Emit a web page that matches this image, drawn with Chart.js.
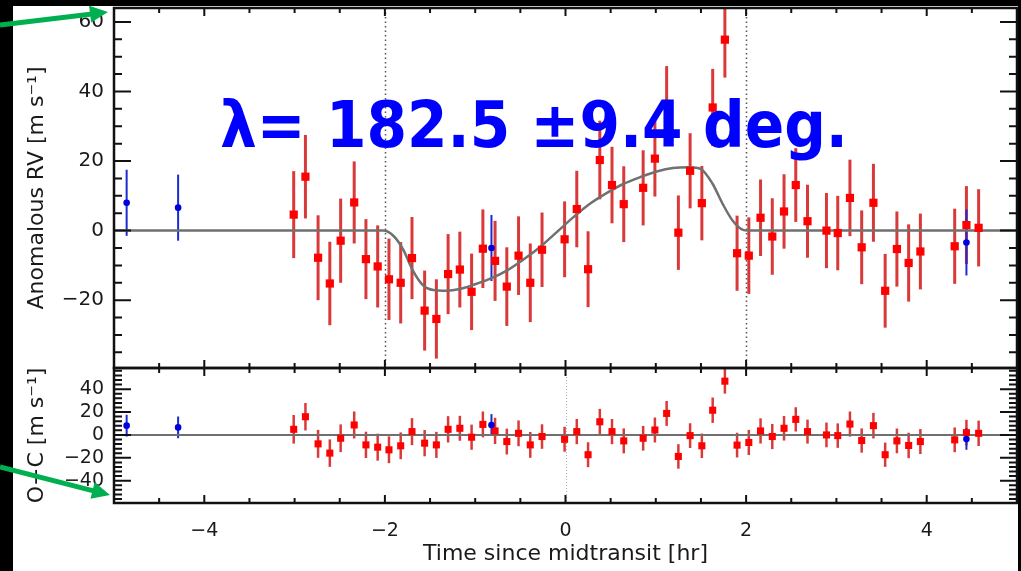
<!DOCTYPE html>
<html>
<head>
<meta charset="utf-8">
<title>Anomalous RV</title>
<script src="https://cdn.jsdelivr.net/npm/chart.js@4.4.0/dist/chart.umd.min.js"></script>
<style>
  html, body { margin: 0; padding: 0; background: #000; }
  #page { position: relative; width: 1021px; height: 571px; overflow: hidden; background: #000; }
  #sheet { position: absolute; left: 13px; top: 6px; width: 1005px; height: 565px; background: #fff; }
  canvas { position: absolute; left: 0; top: 0; }
</style>
</head>
<body>
<div id="page">
  <div id="sheet"></div>
  <canvas id="ocChart" width="1021" height="571"></canvas>
  <canvas id="rvChart" width="1021" height="571"></canvas>
</div>
<script>
// data
// red points (in-transit night)
var redTime = [-3.01, -2.88, -2.74, -2.61, -2.49, -2.34, -2.21, -2.08, -1.955, -1.825,
  -1.70, -1.56, -1.43, -1.30, -1.17, -1.04, -0.915, -0.78, -0.65, -0.52,
  -0.39, -0.26, -0.01, 0.125, 0.25, 0.38, 0.515, 0.645, 0.86, 0.99,
  1.12, 1.25, 1.38, 1.51, 1.63, 1.765, 1.90, 2.03, 2.16, 2.29,
  2.42, 2.55, 2.68, 2.89, 3.015, 3.15, 3.28, 3.41, 3.54, 3.67,
  3.80, 3.93, 4.31, 4.44, 4.575];
var redRV = [4.6, 15.5, -7.8, -15.2, -2.9, 8.1, -8.2, -10.3, -14.0, -15.0,
  -7.9, -23.0, -25.4, -12.5, -11.2, -17.6, -5.2, -8.7, -16.1, -7.2,
  -15.0, -5.5, -2.5, 6.2, -11.1, 20.3, 13.1, 7.6, 12.3, 20.7,
  36.4, -0.6, 17.2, 7.9, 35.4, 54.9, -6.5, -7.2, 3.7, -1.7,
  5.5, 13.1, 2.7, 0.0, -0.7, 9.4, -4.8, 8.0, -17.3, -5.3,
  -9.3, -6.0, -4.5, 1.6, 0.8];
var redErr = [12.5, 12.0, 12.2, 12.0, 12.1, 11.8, 11.5, 11.8, 11.7, 11.7,
  11.8, 11.5, 11.4, 11.5, 10.9, 11.0, 11.3, 11.5, 11.3, 11.3,
  11.3, 10.7, 10.9, 11.0, 10.9, 11.3, 11.0, 10.9, 10.8, 10.9,
  10.9, 10.7, 10.8, 10.7, 11.1, 10.9, 10.8, 11.0, 11.0, 11.0,
  10.7, 10.6, 10.5, 10.8, 10.7, 11.0, 10.6, 11.2, 10.6, 10.8,
  11.1, 10.9, 10.8, 11.2, 11.1];
var redOC = [4.9, 15.9, -7.8, -15.9, -2.9, 8.7, -8.7, -10.7, -13.0, -9.5,
  2.9, -7.2, -8.7, 4.9, 5.8, -2.0, 9.2, 3.5, -5.8, 1.4,
  -8.7, -1.4, -3.8, 2.9, -17.3, 11.5, 2.9, -5.2, -2.9, 4.3,
  18.8, -18.8, -0.6, -9.5, 21.6, 47.0, -8.9, -6.6, 3.5, -1.4,
  5.8, 13.6, 2.9, 0.0, -0.6, 9.5, -4.9, 8.1, -17.3, -5.2,
  -9.2, -5.8, -4.3, 2.0, 1.4];

// blue points (other nights)
var blueTime = [-4.86, -4.29, -0.82, 4.44];
var blueRV = [8.0, 6.6, -5.0, -3.4];
var blueErr = [9.5, 9.5, 9.5, 9.5];
var blueOC = [8.1, 6.6, 8.7, -3.5];

// best-fit RM model curve
var modelTime = [-5, -2.02, -1.91, -1.80, -1.69, -1.575, -1.465, -1.32, -1.17, -1.02,
  -0.84, -0.65, -0.47, -0.285, -0.10, 0.085, 0.27, 0.45, 0.64, 0.82,
  1.01, 1.19, 1.375, 1.50, 1.63, 1.74, 1.85, 1.965, 2.02, 5];
var modelRV = [0, 0, -1.4, -5.3, -11.5, -15.8, -17.1, -17.3, -16.8, -15.6,
  -13.9, -11.5, -8.4, -4.8, -0.5, 3.8, 7.7, 10.7, 13.4, 15.3,
  17.0, 18.0, 18.2, 17.7, 13.4, 7.7, 2.9, 0.2, 0, 0];

// tick labels
var xTicks = [-4, -2, 0, 2, 4];
var rvTicks = [-20, 0, 20, 40, 60];
var ocTicks = [-40, -20, 0, 20, 40];

var contactTimes = [-2, 2];
var midTime = [0];
var lambdaText = "λ= 182.5 ±9.4 deg.";

Chart.defaults.font.family = "'DejaVu Sans', sans-serif";

function toPoints(xs, ys) {
  return xs.map(function (x, i) { return { x: x, y: ys[i] }; });
}

function fmtTick(value) {
  return String(value).replace("-", "\u2212");
}

function setTicks(list) {
  return function (s) {
    s.ticks = list.map(function (v) { return { value: v }; });
  };
}

// fixed axis box, no extra label padding
function fixSize(w, h) {
  return function (s) {
    if (w != null) s.width = w;
    if (h != null) s.height = h;
    s.paddingTop = 0;
    s.paddingBottom = 0;
    s.paddingLeft = 0;
    s.paddingRight = 0;
  };
}

// error bars drawn under the markers
function errorBarPlugin(id, sets) {
  return {
    id: id,
    beforeDatasetsDraw: function (chart) {
      var ctx = chart.ctx, xs = chart.scales.x, ys = chart.scales.y;
      ctx.save();
      sets.forEach(function (s) {
        ctx.strokeStyle = s.color;
        ctx.lineWidth = s.width;
        for (var i = 0; i < s.x.length; i++) {
          var px = xs.getPixelForValue(s.x[i]);
          var top = Math.max(ys.getPixelForValue(s.y[i] + s.err[i]), chart.chartArea.top);
          var bot = Math.min(ys.getPixelForValue(s.y[i] - s.err[i]), chart.chartArea.bottom);
          ctx.beginPath();
          ctx.moveTo(px, top);
          ctx.lineTo(px, bot);
          ctx.stroke();
        }
      });
      ctx.restore();
    }
  };
}

// dotted vertical guides
function guidePlugin(id, times, color, width, dash) {
  return {
    id: id,
    beforeDatasetsDraw: function (chart) {
      var ctx = chart.ctx, a = chart.chartArea;
      ctx.save();
      ctx.strokeStyle = color;
      ctx.lineWidth = width;
      ctx.setLineDash(dash);
      times.forEach(function (t) {
        var px = Math.round(chart.scales.x.getPixelForValue(t)) + 0.5;
        ctx.beginPath();
        ctx.moveTo(px, a.top);
        ctx.lineTo(px, a.bottom);
        ctx.stroke();
      });
      ctx.restore();
    }
  };
}

// box + inward ticks on all four sides (IDL style)
function framePlugin(id, yMinor) {
  return {
    id: id,
    afterDraw: function (chart) {
      var ctx = chart.ctx, a = chart.chartArea;
      var xs = chart.scales.x, ys = chart.scales.y;
      ctx.save();
      ctx.strokeStyle = "#111";
      ctx.lineWidth = 2;
      ctx.beginPath();
      var t, p;
      for (t = Math.ceil(xs.min / 0.5) * 0.5; t <= xs.max; t += 0.5) {
        var major = Math.abs(t / 2 - Math.round(t / 2)) < 1e-6;
        var len = major ? 8 : 5;
        p = xs.getPixelForValue(t);
        ctx.moveTo(p, a.bottom); ctx.lineTo(p, a.bottom - len);
        ctx.moveTo(p, a.top); ctx.lineTo(p, a.top + len);
      }
      for (t = Math.ceil(ys.min / yMinor) * yMinor; t <= ys.max; t += yMinor) {
        var ymaj = Math.abs(t / 20 - Math.round(t / 20)) < 1e-6;
        var ylen = ymaj ? 17 : 8;
        p = ys.getPixelForValue(t);
        ctx.moveTo(a.left, p); ctx.lineTo(a.left + ylen, p);
        ctx.moveTo(a.right, p); ctx.lineTo(a.right - ylen, p);
      }
      ctx.stroke();
      ctx.lineWidth = 2.5;
      ctx.strokeRect(a.left, a.top, a.right - a.left, a.bottom - a.top);
      ctx.restore();
    }
  };
}

// big annotation text and the green arrows
var annotationPlugin = {
  id: "annotation",
  afterDraw: function (chart) {
    var ctx = chart.ctx;
    ctx.save();
    ctx.font = "bold 64px 'DejaVu Sans'";
    var w = ctx.measureText(lambdaText).width;
    ctx.translate(220, 147);
    ctx.scale(628 / w, 1);
    ctx.fillStyle = "#0000ff";
    ctx.fillText(lambdaText, 0, 0);
    ctx.restore();

    drawArrow(ctx, 0, 25, 108, 12);
    drawArrow(ctx, 0, 467, 110, 495);
  }
};

function drawArrow(ctx, x0, y0, x1, y1) {
  var dx = x1 - x0, dy = y1 - y0;
  var len = Math.sqrt(dx * dx + dy * dy);
  var ux = dx / len, uy = dy / len;
  var bx = x1 - ux * 18, by = y1 - uy * 18;
  ctx.save();
  ctx.strokeStyle = "#00b050";
  ctx.fillStyle = "#00b050";
  ctx.lineWidth = 5;
  ctx.beginPath();
  ctx.moveTo(x0, y0);
  ctx.lineTo(bx + ux * 2, by + uy * 2);
  ctx.stroke();
  ctx.beginPath();
  ctx.moveTo(x1, y1);
  ctx.lineTo(bx - uy * 8.5, by + ux * 8.5);
  ctx.lineTo(bx + uy * 8.5, by - ux * 8.5);
  ctx.closePath();
  ctx.fill();
  ctx.restore();
}

// top panel: anomalous RV
var rvChart = new Chart(document.getElementById("rvChart"), {
  type: "scatter",
  data: {
    datasets: [
      {
        label: "blue",
        data: toPoints(blueTime, blueRV),
        pointStyle: "circle",
        pointRadius: 3.3,
        backgroundColor: "#0000dd",
        borderWidth: 0,
        order: 0
      },
      {
        label: "red",
        data: toPoints(redTime, redRV),
        pointStyle: "rect",
        pointRadius: 5.8,
        backgroundColor: "#ff0000",
        borderWidth: 0,
        order: 1
      },
      {
        type: "line",
        label: "model",
        data: toPoints(modelTime, modelRV),
        borderColor: "#707070",
        borderWidth: 2.5,
        pointRadius: 0,
        cubicInterpolationMode: "monotone",
        order: 2
      }
    ]
  },
  options: {
    responsive: false,
    animation: false,
    devicePixelRatio: 1,
    layout: { autoPadding: false, padding: { left: 13, top: 8, right: 4, bottom: 203 } },
    plugins: { legend: { display: false }, tooltip: { enabled: false } },
    scales: {
      x: { type: "linear", min: -5, max: 5, display: false, afterFit: fixSize(null, 0) },
      y: {
        min: -39.5,
        max: 64,
        afterBuildTicks: setTicks(rvTicks),
        afterFit: fixSize(101, null),
        grid: { display: false, drawTicks: false },
        border: { display: false },
        ticks: {
          padding: 10,
          color: "#1a1a1a",
          font: { size: 20 },
          callback: fmtTick
        },
        title: {
          display: true,
          text: "Anomalous RV [m s\u207B\u00B9]",
          color: "#1a1a1a",
          font: { size: 22 },
          padding: { top: 11, bottom: 0 }
        }
      }
    }
  },
  plugins: [
    guidePlugin("rvGuides", contactTimes, "#555", 1.5, [1.5, 3]),
    errorBarPlugin("rvErr", [
      { x: redTime, y: redRV, err: redErr, color: "rgba(214,36,36,0.9)", width: 3 },
      { x: blueTime, y: blueRV, err: blueErr, color: "#1a2bd0", width: 2 }
    ]),
    framePlugin("rvFrame", 5),
    annotationPlugin
  ]
});

// bottom panel: O-C residuals
var ocChart = new Chart(document.getElementById("ocChart"), {
  type: "scatter",
  data: {
    datasets: [
      {
        label: "blue",
        data: toPoints(blueTime, blueOC),
        pointStyle: "circle",
        pointRadius: 3.3,
        backgroundColor: "#0000dd",
        borderWidth: 0,
        order: 0
      },
      {
        label: "red",
        data: toPoints(redTime, redOC),
        pointStyle: "rect",
        pointRadius: 5,
        backgroundColor: "#ff0000",
        borderWidth: 0,
        order: 1
      },
      {
        type: "line",
        label: "zero",
        data: toPoints([-5, 5], [0, 0]),
        borderColor: "#707070",
        borderWidth: 2,
        pointRadius: 0,
        order: 2
      }
    ]
  },
  options: {
    responsive: false,
    animation: false,
    devicePixelRatio: 1,
    layout: { autoPadding: false, padding: { left: 13, top: 368, right: 4, bottom: 0 } },
    plugins: { legend: { display: false }, tooltip: { enabled: false } },
    scales: {
      x: {
        type: "linear",
        min: -5,
        max: 5,
        afterBuildTicks: setTicks(xTicks),
        afterFit: fixSize(null, 68),
        grid: { display: false, drawTicks: false },
        border: { display: false },
        ticks: {
          padding: 17,
          maxRotation: 0,
          autoSkip: false,
          color: "#1a1a1a",
          font: { size: 19 },
          callback: fmtTick
        },
        title: {
          display: true,
          text: "Time since midtransit [hr]",
          color: "#1a1a1a",
          font: { size: 22 },
          padding: { top: 0, bottom: 4 }
        }
      },
      y: {
        min: -59.5,
        max: 58.5,
        afterBuildTicks: setTicks(ocTicks),
        afterFit: fixSize(101, null),
        grid: { display: false, drawTicks: false },
        border: { display: false },
        ticks: {
          padding: 10,
          color: "#1a1a1a",
          font: { size: 19 },
          callback: fmtTick
        },
        title: {
          display: true,
          text: "O\u2212C [m s\u207B\u00B9]",
          color: "#1a1a1a",
          font: { size: 22 },
          padding: { top: 11, bottom: 0 }
        }
      }
    }
  },
  plugins: [
    guidePlugin("ocGuides", midTime, "#b0b0b0", 1, [1, 2]),
    errorBarPlugin("ocErr", [
      { x: redTime, y: redOC, err: redErr, color: "rgba(214,36,36,0.9)", width: 2.5 },
      { x: blueTime, y: blueOC, err: blueErr, color: "#1a2bd0", width: 2 }
    ]),
    framePlugin("ocFrame", 4)
  ]
});
</script>
</body>
</html>
